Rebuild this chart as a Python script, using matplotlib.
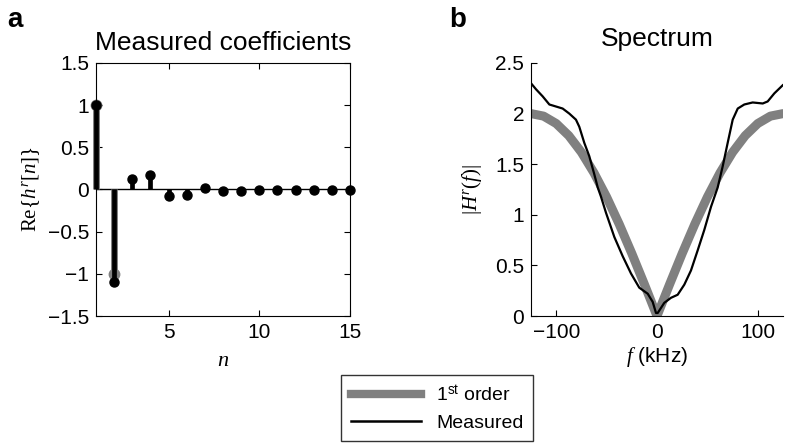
import numpy as np
import matplotlib
matplotlib.use("Agg")
import matplotlib.pyplot as plt
from matplotlib.lines import Line2D

plt.rcParams['font.family'] = ['Liberation Sans', 'DejaVu Sans']
plt.rcParams['mathtext.fontset'] = 'custom'
plt.rcParams['mathtext.rm'] = 'Liberation Serif'
plt.rcParams['mathtext.it'] = 'Liberation Serif:italic'
plt.rcParams['mathtext.sf'] = 'Liberation Sans'

# panel a: coefficients
n_ideal = [1, 2]
h_ideal = [1.0, -1.0]
n_meas = [1, 2, 3, 4, 5, 6, 7, 8, 9, 10, 11, 12, 13, 14, 15]
h_meas = [1.0, -1.1, 0.13, 0.17, -0.08, -0.06, 0.02, -0.02, -0.02,
          -0.01, -0.01, -0.01, -0.01, -0.01, -0.01]

# panel b: spectrum
f_first = [-125, -112.5, -100, -87.5, -75, -62.5, -50, -37.5, -25, -12.5, 0,
           12.5, 25, 37.5, 50, 62.5, 75, 87.5, 100, 112.5, 125]
H_first = [2.0, 1.975, 1.902, 1.782, 1.618, 1.414, 1.176, 0.908, 0.618, 0.313, 0.0,
           0.313, 0.618, 0.908, 1.176, 1.414, 1.618, 1.782, 1.902, 1.975, 2.0]
f_meas = [-125, -120, -113.4, -106.8, -100.2, -93.6, -87, -80.4, -77.1, -72.1,
          -67.2, -62.2, -58.8, -55.6, -50.6, -42.3, -34, -25.8, -17.6, -9.2,
          -4.3, -1, 0.7, 7.2, 13.9, 20.5, 27.1, 33.7, 40.4, 46.9, 53.6, 60.2,
          65.2, 70.1, 75.1, 80.1, 86.6, 94.9, 104.9, 109.8, 116.4, 124.7]
H_meas = [2.30, 2.24, 2.17, 2.09, 2.07, 2.05, 2.00, 1.94, 1.87, 1.71,
          1.58, 1.40, 1.27, 1.18, 1.02, 0.78, 0.59, 0.42, 0.28, 0.22,
          0.14, 0.03, 0.03, 0.13, 0.18, 0.21, 0.31, 0.45, 0.65, 0.85, 1.08, 1.27,
          1.48, 1.71, 1.94, 2.05, 2.09, 2.11, 2.10, 2.12, 2.20, 2.28]

gray = '#808080'

fig = plt.figure(figsize=(7.93, 4.48), dpi=100)

ax1 = fig.add_axes([96/793, 132/448, 254/793, 253/448])
ax1.plot([1, 15], [0, 0], color='black', lw=1, zorder=1)
ax1.vlines(n_ideal, 0, h_ideal, color=gray, lw=5, zorder=2, clip_on=False)
ax1.plot(n_ideal, h_ideal, 'o', color=gray, ms=7.5, zorder=2, clip_on=False)
ax1.vlines(n_meas, 0, h_meas, color='black', lw=3.4, zorder=3, clip_on=False)
ax1.plot(n_meas, h_meas, 'o', color='black', ms=6.5, zorder=3, clip_on=False)
ax1.set_xlim(1, 15)
ax1.set_ylim(-1.5, 1.5)
ax1.set_xticks([5, 10, 15])
ax1.set_yticks([-1.5, -1, -0.5, 0, 0.5, 1, 1.5])
ax1.set_yticklabels(['\u22121.5', '\u22121', '\u22120.5', '0', '0.5', '1', '1.5'])
ax1.tick_params(direction='in', top=True, right=True, labelsize=15, length=4, pad=5)
ax1.set_title('Measured coefficients', fontsize=19, pad=9)
ax1.set_xlabel(r'$n$', fontsize=16, labelpad=6)
ax1.set_ylabel(r'$\mathrm{Re}\{h^r[n]\}$', fontsize=15, labelpad=4)

ax2 = fig.add_axes([531/793, 132/448, 252/793, 253/448])
ax2.plot(f_first, H_first, color=gray, lw=6.5, solid_capstyle='round')
ax2.plot(f_meas, H_meas, color='black', lw=1.6)
ax2.set_xlim(-125, 125)
ax2.set_ylim(0, 2.5)
ax2.set_xticks([-100, 0, 100])
ax2.set_xticklabels(['\u2212100', '0', '100'])
ax2.set_yticks([0, 0.5, 1, 1.5, 2, 2.5])
ax2.set_yticklabels(['0', '0.5', '1', '1.5', '2', '2.5'])
ax2.spines['top'].set_visible(False)
ax2.spines['right'].set_visible(False)
ax2.tick_params(direction='in', labelsize=15, length=4, pad=5)
ax2.set_title('Spectrum', fontsize=19, pad=12)
ax2.set_xlabel(r'$f$ (kHz)', fontsize=15, labelpad=2)
ax2.set_ylabel(r'$|H^r(f)|$', fontsize=15, labelpad=8)

fig.text(7/793, 1 - 27/448, 'a', fontsize=20, fontweight='bold', va='baseline')
fig.text(449/793, 1 - 27/448, 'b', fontsize=20, fontweight='bold', va='baseline')

handles = [Line2D([], [], color=gray, lw=6),
           Line2D([], [], color='black', lw=1.8)]
leg = fig.legend(handles, [r'1$^{\mathsf{st}}$ order', 'Measured'],
                 loc='center', bbox_to_anchor=(437/793, 1 - 408/448),
                 fontsize=14, frameon=True, fancybox=False, handlelength=3.6,
                 borderpad=0.5, labelspacing=0.45, handletextpad=0.8, borderaxespad=0)
leg.get_frame().set_edgecolor('black')
leg.get_frame().set_linewidth(1.0)

fig.savefig('out.png', dpi=100)
